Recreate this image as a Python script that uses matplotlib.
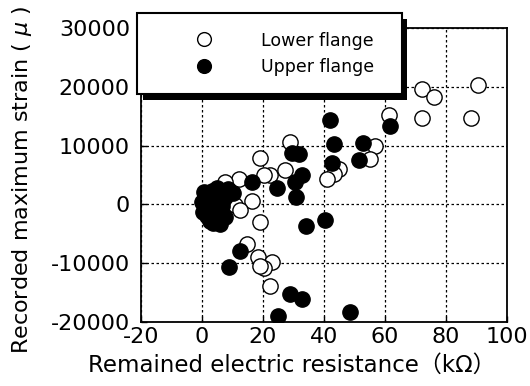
import matplotlib
matplotlib.use("Agg")
import matplotlib.pyplot as plt
import matplotlib.patheffects as pe

plt.rcParams['font.family'] = ['DejaVu Sans', 'Noto Sans CJK JP']
plt.rcParams['axes.unicode_minus'] = False

# Lower flange (open circles): resistance (kOhm), strain (micro)
lower_x = [90.5, 72.2, 76.0, 72.2, 88.2, 61.4, 56.8, 55.2, 44.8, 43.2, 41.0,
           29.0, 19.1, 22.4, 27.3, 20.2, 12.0, 7.6, 16.4, 10.9, 12.6, 19.1,
           14.8, 18.2, 23.0, 20.2, 19.1, 22.4]
lower_y = [20350, 19670, 18370, 14770, 14650, 15220, 9990, 7700, 6100, 5250, 4390,
           10670, 7930, 5080, 5810, 4960, 4390, 3830, 510, -170, -1030, -3010,
           -6720, -9000, -9850, -10880, -10430, -13850]

# Upper flange (filled circles)
upper_x = [42.1, 61.8, 43.2, 52.7, 29.5, 31.7, 42.6, 51.4, 32.8, 30.6, 24.6,
           16.4, 30.9, 40.4, 34.2, 12.3, 8.7, 29.0, 32.8, 24.8, 48.4,
           0.5, 3.4, 6.7, 10.0, 0.1, 2.7, 5.3, 0.4, 3.1, 6.0, 2.7, 6.0,
           1.5, 4.5, 7.5, 1.5, 4.2, 7.5, 4.5, 1.8, 6.5, 7.0,
           1.2, 3.8, 5.5, 8.5, 3.5, 5.0]
upper_y = [14360, 13400, 10210, 10380, 8670, 8500, 7100, 7520, 4960, 3830, 2800,
           3830, 1260, -2740, -3690, -7870, -10710, -15270, -16130, -19080, -18330,
           2170, 2340, 2340, 2000, 460, 460, 460, -1250, -1250, -1080, -2790, -3300,
           1300, 1500, 1300, -2000, -2200, -2200, -500, -400, -300, 700,
           -600, 300, -1800, 2600, -3100, 2800]

x_ticks = [-20, 0, 20, 40, 60, 80, 100]
y_ticks = [-20000, -10000, 0, 10000, 20000, 30000]

fig = plt.figure(figsize=(5.3, 3.86), dpi=100)
ax = fig.add_axes([141/530, 64.3/386, 366/530, 293.4/386])

ax.plot(lower_x, lower_y, 'o', ms=11, mfc='white', mec='black', mew=1.0,
        label='Lower flange', zorder=3)
ax.plot(upper_x, upper_y, 'o', ms=11, mfc='black', mec='black', mew=1.0,
        label='Upper flange', zorder=4)

ax.set_xlim(-20, 100)
ax.set_ylim(-20000, 30000)
ax.set_xticks(x_ticks)
ax.set_yticks(y_ticks)
ax.set_xticklabels([str(v) for v in x_ticks])
ax.set_yticklabels([str(v) for v in y_ticks])

ax.grid(True, color='black', linestyle=(0, (2, 2)), linewidth=0.9)
ax.set_axisbelow(True)
for s in ax.spines.values():
    s.set_linewidth(1.3)
ax.tick_params(direction='in', length=4, width=1.0, labelsize=16, pad=8,
               top=False, right=False)
ax.tick_params(axis='x', pad=4)

ax.set_xlabel('Remained electric resistance（kΩ）', fontsize=16.5, va='center')
ax.xaxis.set_label_coords(0.413, -0.1476)
ax.set_ylabel('Recorded maximum strain ( $\\mu$ )', fontsize=16, va='center')
ax.yaxis.set_label_coords(-0.326, 0.483)

leg = ax.legend(loc='upper left',
                bbox_to_anchor=(137.3/530, 1 - 95/386, (401.7-137.3)/530, (95-13.3)/386),
                bbox_transform=fig.transFigure, mode='expand',
                fontsize=12.5, frameon=True, fancybox=False, framealpha=1,
                edgecolor='black', borderpad=1.05, labelspacing=0.5,
                handlelength=5.6, handletextpad=0.48, borderaxespad=0,
                markerscale=0.9)
frame = leg.get_frame()
frame.set_linewidth(1.5)
frame.set_path_effects([pe.SimplePatchShadow(offset=(4.0, -4.0), shadow_rgbFace='black', alpha=1.0),
                        pe.Normal()])
leg.set_zorder(10)

fig.savefig('out.png', dpi=100)
